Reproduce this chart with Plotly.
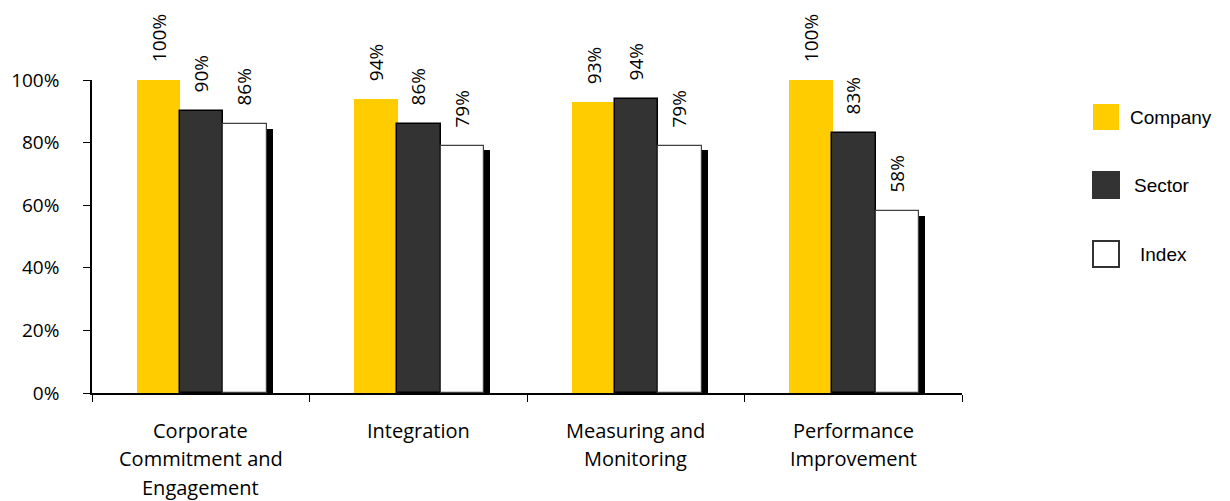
import plotly.graph_objects as go

categories = ["Corporate Commitment and Engagement", "Integration", "Measuring and Monitoring", "Performance Improvement"]
category_lines = [["Corporate", "Commitment and", "Engagement"], ["Integration"], ["Measuring and", "Monitoring"], ["Performance", "Improvement"]]
company = [1.00, 0.94, 0.93, 1.00]
sector = [0.90, 0.86, 0.94, 0.83]
index_vals = [0.86, 0.79, 0.79, 0.58]
series_names = ["Company", "Sector", "Index"]
y_ticks = [0, 0.2, 0.4, 0.6, 0.8, 1.0]

YELLOW = "#FFCC00"
DARK = "#333333"
FONT = "Open Sans"
BAR_FONT = dict(family=FONT, size=19, color="black")
TICK_FONT = dict(family=FONT, size=19, color="black")
CAT_FONT = dict(family=FONT, size=20, color="black")

fig = go.Figure()

bar_w = 0.2
NB = "\u00a0"
common = dict(textposition="outside", textangle=-90, texttemplate=NB * 3 + "%{y:.0%}",
              textfont=BAR_FONT, cliponaxis=False, constraintext="none",
              width=bar_w, showlegend=False)

fig.add_trace(go.Bar(x=categories, y=company, name=series_names[0], offset=-0.295,
                     marker=dict(color=YELLOW, line=dict(width=0)), **common))
fig.add_trace(go.Bar(x=categories, y=sector, name=series_names[1], offset=-0.097,
                     marker=dict(color=DARK, line=dict(color="black", width=1.5)), **common))
# shadow behind index bars
fig.add_trace(go.Bar(x=categories, y=index_vals, base=-0.015, offset=0.13, width=bar_w,
                     marker=dict(color="black", line=dict(width=0)), hoverinfo="skip",
                     showlegend=False, cliponaxis=False))
fig.add_trace(go.Bar(x=categories, y=index_vals, name=series_names[2], offset=0.103,
                     marker=dict(color="white", line=dict(color="#404040", width=1.2)), **common))

# category labels, one annotation per line
for cat, lines in zip(categories, category_lines):
    for i, ln in enumerate(lines):
        fig.add_annotation(x=cat, xref="x", y=0, yref="paper", text=ln, showarrow=False,
                           yanchor="middle", yshift=-(37 + 28.5 * i), font=CAT_FONT)

# legend drawn manually
legend_styles = [dict(fill=YELLOW, line="rgba(0,0,0,0)", y=117, tx=1128),
                 dict(fill=DARK, line=DARK, y=185, tx=1132),
                 dict(fill="white", line="#333333", y=254, tx=1138)]
W, H = 1230, 501
PL, PR, PT, PB = 92, 962, 80, 393
for name, st in zip(series_names, legend_styles):
    cy = st["y"]
    fig.add_shape(type="rect", xref="paper", yref="paper",
                  x0=(1093 - PL) / (PR - PL), x1=(1119 - PL) / (PR - PL),
                  y0=(PB - (cy + 13)) / (PB - PT), y1=(PB - (cy - 13)) / (PB - PT),
                  fillcolor=st["fill"], line=dict(color=st["line"], width=2))
    fig.add_annotation(x=(st["tx"] - PL) / (PR - PL), xref="paper", y=(PB - cy) / (PB - PT), yref="paper",
                       text=name, showarrow=False, xanchor="left", yanchor="middle",
                       font=dict(family="Liberation Sans, Arial", size=19, color="black"))

fig.update_layout(
    width=W, height=H, barmode="overlay", plot_bgcolor="white", paper_bgcolor="white",
    margin=dict(l=PL, r=W - PR, t=PT, b=H - PB),
    bargap=0,
)
fig.update_xaxes(type="category", range=[-0.5, 3.5], showticklabels=False, tickson="boundaries",
                 ticks="outside", ticklen=7, tickcolor="black", showline=True, linecolor="black",
                 linewidth=1.5, showgrid=False, zeroline=False)
fig.update_yaxes(range=[0, 1], tickvals=y_ticks, tickformat=".0%", ticks="outside", ticklen=7,
                 tickcolor="black", showline=True, linecolor="black", linewidth=1.5, showgrid=False,
                 zeroline=False, tickfont=TICK_FONT, ticklabelstandoff=20)

fig.write_html("out.html", config={"displayModeBar": False},
               post_script="document.body.style.margin='0';document.body.style.overflow='hidden';")
